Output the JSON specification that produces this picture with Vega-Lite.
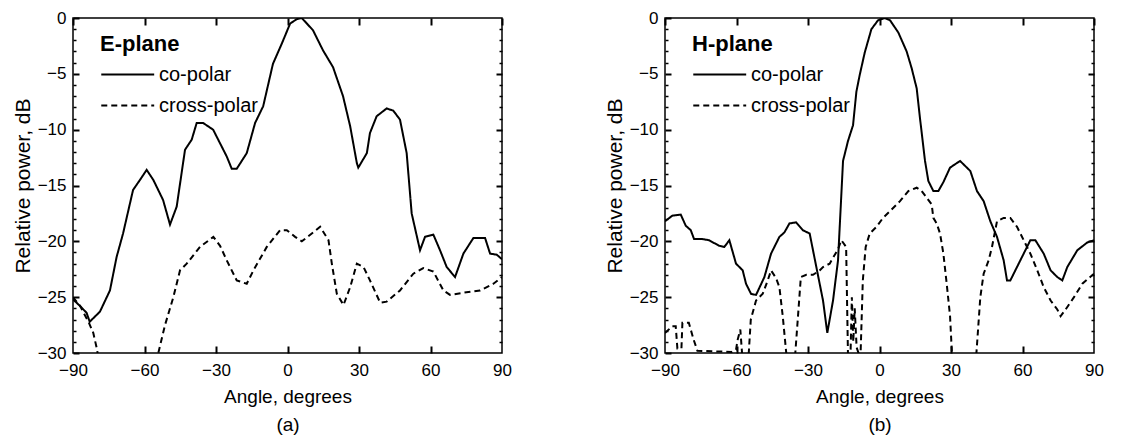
{
  "$schema": "https://vega.github.io/schema/vega-lite/v6.json",
  "padding": {"left": 11, "top": 8, "right": 5, "bottom": 5},
  "background": "white",
  "datasets": {
    "E": [
      {"a":-90,"p":-25.2,"s":"co-polar"},{"a":-87,"p":-25.8,"s":"co-polar"},{"a":-84.3,"p":-26.4,"s":"co-polar"},{"a":-83,"p":-27.2,"s":"co-polar"},{"a":-78.7,"p":-26.3,"s":"co-polar"},{"a":-74.5,"p":-24.4,"s":"co-polar"},{"a":-71.7,"p":-21.4,"s":"co-polar"},{"a":-69,"p":-19.3,"s":"co-polar"},{"a":-64.8,"p":-15.4,"s":"co-polar"},{"a":-61.9,"p":-14.5,"s":"co-polar"},{"a":-59.1,"p":-13.6,"s":"co-polar"},{"a":-56.3,"p":-14.5,"s":"co-polar"},{"a":-52.2,"p":-16.3,"s":"co-polar"},{"a":-49.3,"p":-18.5,"s":"co-polar"},{"a":-46.5,"p":-16.9,"s":"co-polar"},{"a":-43,"p":-11.8,"s":"co-polar"},{"a":-40.2,"p":-10.9,"s":"co-polar"},{"a":-38.1,"p":-9.4,"s":"co-polar"},{"a":-35.4,"p":-9.4,"s":"co-polar"},{"a":-31.2,"p":-10,"s":"co-polar"},{"a":-25.5,"p":-12.4,"s":"co-polar"},{"a":-23.4,"p":-13.5,"s":"co-polar"},{"a":-21.3,"p":-13.5,"s":"co-polar"},{"a":-17.1,"p":-12.1,"s":"co-polar"},{"a":-13.6,"p":-9.4,"s":"co-polar"},{"a":-10.2,"p":-7.9,"s":"co-polar"},{"a":-6.1,"p":-4.1,"s":"co-polar"},{"a":-2.4,"p":-2.3,"s":"co-polar"},{"a":1.1,"p":-0.5,"s":"co-polar"},{"a":3.9,"p":-0.1,"s":"co-polar"},{"a":6,"p":0,"s":"co-polar"},{"a":10.7,"p":-1.1,"s":"co-polar"},{"a":14.9,"p":-2.9,"s":"co-polar"},{"a":19.1,"p":-4.4,"s":"co-polar"},{"a":23.3,"p":-7,"s":"co-polar"},{"a":26.3,"p":-9.7,"s":"co-polar"},{"a":29.1,"p":-13,"s":"co-polar"},{"a":29.7,"p":-13.4,"s":"co-polar"},{"a":33.3,"p":-12.1,"s":"co-polar"},{"a":34.6,"p":-10.3,"s":"co-polar"},{"a":37.4,"p":-8.8,"s":"co-polar"},{"a":41.6,"p":-8.1,"s":"co-polar"},{"a":44.4,"p":-8.3,"s":"co-polar"},{"a":47.2,"p":-9.1,"s":"co-polar"},{"a":50,"p":-12.1,"s":"co-polar"},{"a":52.1,"p":-17.5,"s":"co-polar"},{"a":55.6,"p":-20.8,"s":"co-polar"},{"a":57.7,"p":-19.6,"s":"co-polar"},{"a":61.2,"p":-19.4,"s":"co-polar"},{"a":64,"p":-20.8,"s":"co-polar"},{"a":66.8,"p":-22.3,"s":"co-polar"},{"a":70.3,"p":-23.2,"s":"co-polar"},{"a":73.8,"p":-21.1,"s":"co-polar"},{"a":78,"p":-19.7,"s":"co-polar"},{"a":82.9,"p":-19.7,"s":"co-polar"},{"a":85,"p":-21.1,"s":"co-polar"},{"a":87.8,"p":-21.2,"s":"co-polar"},{"a":90,"p":-21.6,"s":"co-polar"},
      {"a":-90,"p":-25,"s":"cross-polar"},{"a":-87,"p":-25.8,"s":"cross-polar"},{"a":-83.3,"p":-27.3,"s":"cross-polar"},{"a":-81.5,"p":-28.2,"s":"cross-polar"},{"a":-80,"p":-29.6,"s":"cross-polar"},{"a":-78.5,"p":-31.5,"s":"cross-polar"},{"a":-56,"p":-31.5,"s":"cross-polar"},{"a":-54.2,"p":-30,"s":"cross-polar"},{"a":-51.4,"p":-27.5,"s":"cross-polar"},{"a":-47.9,"p":-25,"s":"cross-polar"},{"a":-45.1,"p":-22.6,"s":"cross-polar"},{"a":-42.3,"p":-22,"s":"cross-polar"},{"a":-36.7,"p":-20.5,"s":"cross-polar"},{"a":-31.1,"p":-19.6,"s":"cross-polar"},{"a":-28.3,"p":-20.4,"s":"cross-polar"},{"a":-25.5,"p":-21.7,"s":"cross-polar"},{"a":-21.3,"p":-23.5,"s":"cross-polar"},{"a":-17.1,"p":-23.8,"s":"cross-polar"},{"a":-14.3,"p":-22.6,"s":"cross-polar"},{"a":-8.7,"p":-20.5,"s":"cross-polar"},{"a":-3.1,"p":-19,"s":"cross-polar"},{"a":-0.3,"p":-19,"s":"cross-polar"},{"a":3.2,"p":-19.6,"s":"cross-polar"},{"a":6,"p":-20,"s":"cross-polar"},{"a":10.2,"p":-19.3,"s":"cross-polar"},{"a":13.7,"p":-18.7,"s":"cross-polar"},{"a":17.2,"p":-19.9,"s":"cross-polar"},{"a":18.6,"p":-22,"s":"cross-polar"},{"a":20.7,"p":-24.7,"s":"cross-polar"},{"a":23.5,"p":-25.7,"s":"cross-polar"},{"a":26.3,"p":-24.1,"s":"cross-polar"},{"a":29.1,"p":-22,"s":"cross-polar"},{"a":31.9,"p":-22.3,"s":"cross-polar"},{"a":34.6,"p":-23.5,"s":"cross-polar"},{"a":38.9,"p":-25.5,"s":"cross-polar"},{"a":41.6,"p":-25.4,"s":"cross-polar"},{"a":47.2,"p":-24.4,"s":"cross-polar"},{"a":52.8,"p":-22.9,"s":"cross-polar"},{"a":57,"p":-22.4,"s":"cross-polar"},{"a":61.2,"p":-22.7,"s":"cross-polar"},{"a":65.4,"p":-24.4,"s":"cross-polar"},{"a":68.2,"p":-24.8,"s":"cross-polar"},{"a":73.8,"p":-24.6,"s":"cross-polar"},{"a":80.8,"p":-24.4,"s":"cross-polar"},{"a":86.4,"p":-23.8,"s":"cross-polar"},{"a":90,"p":-23.2,"s":"cross-polar"}
    ],
    "H": [
      {"a":-90,"p":-18.2,"s":"co-polar"},{"a":-86.9,"p":-17.7,"s":"co-polar"},{"a":-83.4,"p":-17.6,"s":"co-polar"},{"a":-81.3,"p":-18.6,"s":"co-polar"},{"a":-79.2,"p":-19,"s":"co-polar"},{"a":-77.8,"p":-19.8,"s":"co-polar"},{"a":-74.3,"p":-19.8,"s":"co-polar"},{"a":-71.5,"p":-19.9,"s":"co-polar"},{"a":-67.3,"p":-20.4,"s":"co-polar"},{"a":-65.1,"p":-20.5,"s":"co-polar"},{"a":-63,"p":-19.9,"s":"co-polar"},{"a":-60.2,"p":-22,"s":"co-polar"},{"a":-57.4,"p":-22.6,"s":"co-polar"},{"a":-56,"p":-23.8,"s":"co-polar"},{"a":-53.9,"p":-24.7,"s":"co-polar"},{"a":-51.8,"p":-24.8,"s":"co-polar"},{"a":-48.3,"p":-23.2,"s":"co-polar"},{"a":-45.5,"p":-21.1,"s":"co-polar"},{"a":-42,"p":-19.6,"s":"co-polar"},{"a":-39.9,"p":-19.2,"s":"co-polar"},{"a":-37.8,"p":-18.4,"s":"co-polar"},{"a":-35,"p":-18.3,"s":"co-polar"},{"a":-32.2,"p":-19,"s":"co-polar"},{"a":-29.3,"p":-19.3,"s":"co-polar"},{"a":-26.5,"p":-22.3,"s":"co-polar"},{"a":-23.7,"p":-25.3,"s":"co-polar"},{"a":-21.9,"p":-28.2,"s":"co-polar"},{"a":-19.5,"p":-25.3,"s":"co-polar"},{"a":-17.4,"p":-21.7,"s":"co-polar"},{"a":-15.3,"p":-12.8,"s":"co-polar"},{"a":-13.2,"p":-11,"s":"co-polar"},{"a":-11.1,"p":-9.6,"s":"co-polar"},{"a":-9.7,"p":-6.6,"s":"co-polar"},{"a":-8.3,"p":-5.1,"s":"co-polar"},{"a":-6.2,"p":-3.1,"s":"co-polar"},{"a":-3.4,"p":-1,"s":"co-polar"},{"a":-0.6,"p":-0.2,"s":"co-polar"},{"a":2.2,"p":0,"s":"co-polar"},{"a":4.4,"p":-0.2,"s":"co-polar"},{"a":7.9,"p":-1.3,"s":"co-polar"},{"a":11.4,"p":-3,"s":"co-polar"},{"a":13.5,"p":-4.5,"s":"co-polar"},{"a":15.6,"p":-6.3,"s":"co-polar"},{"a":17,"p":-9,"s":"co-polar"},{"a":19.1,"p":-12.8,"s":"co-polar"},{"a":20.5,"p":-14.6,"s":"co-polar"},{"a":22.6,"p":-15.5,"s":"co-polar"},{"a":24.7,"p":-15.5,"s":"co-polar"},{"a":26.8,"p":-14.7,"s":"co-polar"},{"a":29.6,"p":-13.4,"s":"co-polar"},{"a":33.8,"p":-12.8,"s":"co-polar"},{"a":38.1,"p":-13.7,"s":"co-polar"},{"a":40.9,"p":-15.5,"s":"co-polar"},{"a":43.7,"p":-16.4,"s":"co-polar"},{"a":46.5,"p":-18.2,"s":"co-polar"},{"a":49.3,"p":-19.6,"s":"co-polar"},{"a":52.1,"p":-21.7,"s":"co-polar"},{"a":53.5,"p":-23.5,"s":"co-polar"},{"a":54.9,"p":-23.5,"s":"co-polar"},{"a":57.7,"p":-22.3,"s":"co-polar"},{"a":60.5,"p":-21.1,"s":"co-polar"},{"a":63.3,"p":-19.9,"s":"co-polar"},{"a":65.4,"p":-19.9,"s":"co-polar"},{"a":68.9,"p":-21.1,"s":"co-polar"},{"a":71.8,"p":-22.6,"s":"co-polar"},{"a":74.6,"p":-23.2,"s":"co-polar"},{"a":76.7,"p":-23.5,"s":"co-polar"},{"a":78.8,"p":-22.3,"s":"co-polar"},{"a":83,"p":-20.8,"s":"co-polar"},{"a":87.2,"p":-20.1,"s":"co-polar"},{"a":90,"p":-19.9,"s":"co-polar"},
      {"a":-90,"p":-28.2,"s":"cross-polar"},{"a":-86.9,"p":-27.6,"s":"cross-polar"},{"a":-85.5,"p":-27.6,"s":"cross-polar"},{"a":-84.8,"p":-29.6,"s":"cross-polar"},{"a":-83.1,"p":-29.6,"s":"cross-polar"},{"a":-82.7,"p":-27.3,"s":"cross-polar"},{"a":-80,"p":-27.3,"s":"cross-polar"},{"a":-78,"p":-28.8,"s":"cross-polar"},{"a":-76.4,"p":-29.8,"s":"cross-polar"},{"a":-62,"p":-29.9,"s":"cross-polar"},{"a":-60.2,"p":-29.7,"s":"cross-polar"},{"a":-59.5,"p":-28.8,"s":"cross-polar"},{"a":-58.4,"p":-27.9,"s":"cross-polar"},{"a":-57.5,"p":-30.5,"s":"cross-polar"},{"a":-55,"p":-30.5,"s":"cross-polar"},{"a":-54,"p":-27,"s":"cross-polar"},{"a":-51.8,"p":-25.3,"s":"cross-polar"},{"a":-49,"p":-24.7,"s":"cross-polar"},{"a":-46.9,"p":-23.5,"s":"cross-polar"},{"a":-45.5,"p":-22.6,"s":"cross-polar"},{"a":-43.4,"p":-23.3,"s":"cross-polar"},{"a":-42,"p":-24.1,"s":"cross-polar"},{"a":-40.6,"p":-26.7,"s":"cross-polar"},{"a":-38.9,"p":-30.5,"s":"cross-polar"},{"a":-35.5,"p":-30.5,"s":"cross-polar"},{"a":-33,"p":-23.2,"s":"cross-polar"},{"a":-30.7,"p":-23,"s":"cross-polar"},{"a":-27.9,"p":-23,"s":"cross-polar"},{"a":-25.1,"p":-22.6,"s":"cross-polar"},{"a":-23.7,"p":-22.3,"s":"cross-polar"},{"a":-20.9,"p":-22,"s":"cross-polar"},{"a":-17.4,"p":-20.7,"s":"cross-polar"},{"a":-16,"p":-19.9,"s":"cross-polar"},{"a":-14,"p":-20.5,"s":"cross-polar"},{"a":-13.2,"p":-30.5,"s":"cross-polar"},{"a":-12.2,"p":-30.5,"s":"cross-polar"},{"a":-11.6,"p":-25,"s":"cross-polar"},{"a":-11,"p":-29,"s":"cross-polar"},{"a":-10.4,"p":-26,"s":"cross-polar"},{"a":-9.6,"p":-29.5,"s":"cross-polar"},{"a":-8,"p":-30.5,"s":"cross-polar"},{"a":-7,"p":-23.5,"s":"cross-polar"},{"a":-5.8,"p":-20.5,"s":"cross-polar"},{"a":-4.1,"p":-19.3,"s":"cross-polar"},{"a":-1.3,"p":-18.7,"s":"cross-polar"},{"a":1.5,"p":-17.9,"s":"cross-polar"},{"a":4.4,"p":-17.3,"s":"cross-polar"},{"a":8.6,"p":-16.4,"s":"cross-polar"},{"a":12.1,"p":-15.5,"s":"cross-polar"},{"a":15.6,"p":-15.2,"s":"cross-polar"},{"a":17.7,"p":-15.5,"s":"cross-polar"},{"a":19.8,"p":-16.1,"s":"cross-polar"},{"a":21.9,"p":-16.7,"s":"cross-polar"},{"a":22.6,"p":-17.9,"s":"cross-polar"},{"a":24,"p":-18.4,"s":"cross-polar"},{"a":25.4,"p":-19.3,"s":"cross-polar"},{"a":26.8,"p":-21.1,"s":"cross-polar"},{"a":28.2,"p":-23.8,"s":"cross-polar"},{"a":29.6,"p":-26.7,"s":"cross-polar"},{"a":30.5,"p":-30.5,"s":"cross-polar"},{"a":40.5,"p":-30.5,"s":"cross-polar"},{"a":42.3,"p":-25,"s":"cross-polar"},{"a":43.7,"p":-22.9,"s":"cross-polar"},{"a":45.8,"p":-21.7,"s":"cross-polar"},{"a":47.2,"p":-20.5,"s":"cross-polar"},{"a":49.3,"p":-18.2,"s":"cross-polar"},{"a":52.1,"p":-17.9,"s":"cross-polar"},{"a":54.9,"p":-17.9,"s":"cross-polar"},{"a":57.7,"p":-18.7,"s":"cross-polar"},{"a":60.5,"p":-19.9,"s":"cross-polar"},{"a":63.3,"p":-21.1,"s":"cross-polar"},{"a":66.2,"p":-22.6,"s":"cross-polar"},{"a":68.9,"p":-24.1,"s":"cross-polar"},{"a":71.8,"p":-25.3,"s":"cross-polar"},{"a":74.6,"p":-26.1,"s":"cross-polar"},{"a":76,"p":-26.7,"s":"cross-polar"},{"a":78.1,"p":-26.1,"s":"cross-polar"},{"a":81.6,"p":-25,"s":"cross-polar"},{"a":85.1,"p":-23.8,"s":"cross-polar"},{"a":90,"p":-22.9,"s":"cross-polar"}
    ]
  },
  "hconcat": [
    {
      "width": 429, "height": 335,
      "data": {"name": "E"},
      "layer": [
        {
          "mark": {"type": "line", "clip": true, "strokeWidth": 2, "color": "black"},
          "encoding": {
            "x": {"field": "a", "type": "quantitative", "scale": {"domain": [-90, 90], "nice": false},
              "axis": {"orient": "bottom", "values": [-90, -60, -30, 0, 30, 60, 90], "grid": true, "gridDash": [7, 2000], "labelPadding": 9, "title": ["Angle, degrees", "(a)"]}},
            "y": {"field": "p", "type": "quantitative", "scale": {"domain": [-30, 0], "nice": false},
              "axis": {"orient": "left", "values": [-30, -25, -20, -15, -10, -5, 0], "grid": true, "gridDash": [6, 2000], "labelPadding": 7, "title": "Relative power, dB"}},
            "strokeDash": {"field": "s", "type": "nominal",
              "scale": {"domain": ["co-polar", "cross-polar"], "range": [[1, 0], [6, 4]]},
              "legend": {"title": "E-plane"}}
          }
        },
        {
          "mark": {"type": "point", "opacity": 0},
          "encoding": {
            "x": {"field": "a", "type": "quantitative", "axis": {"orient": "top", "values": [-60, -30, 0, 30, 60], "grid": true, "gridDash": [7, 2000], "labels": false, "title": null}},
            "y": {"field": "p", "type": "quantitative", "axis": {"orient": "left", "values": [-29,-28,-27,-26,-24,-23,-22,-21,-19,-18,-17,-16,-14,-13,-12,-11,-9,-8,-7,-6,-4,-3,-2,-1], "grid": true, "gridDash": [3, 2000], "gridWidth": 1.5, "labels": false, "title": null}}
          }
        },
        {
          "mark": {"type": "point", "opacity": 0},
          "encoding": {
            "x": {"field": "a", "type": "quantitative", "axis": null},
            "y": {"field": "p", "type": "quantitative", "axis": {"orient": "right", "values": [-25, -20, -15, -10, -5], "grid": true, "gridDash": [6, 2000], "labels": false, "title": null}}
          }
        },
        {
          "mark": {"type": "point", "opacity": 0},
          "encoding": {
            "x": {"field": "a", "type": "quantitative", "axis": null},
            "y": {"field": "p", "type": "quantitative", "axis": {"orient": "right", "values": [-29,-28,-27,-26,-24,-23,-22,-21,-19,-18,-17,-16,-14,-13,-12,-11,-9,-8,-7,-6,-4,-3,-2,-1], "grid": true, "gridDash": [3, 2000], "gridWidth": 1.5, "labels": false, "title": null}}
          }
        }
      ],
      "resolve": {"axis": {"x": "independent", "y": "independent"}}
    },
    {
      "width": 429, "height": 335,
      "data": {"name": "H"},
      "layer": [
        {
          "mark": {"type": "line", "clip": true, "strokeWidth": 2, "color": "black"},
          "encoding": {
            "x": {"field": "a", "type": "quantitative", "scale": {"domain": [-90, 90], "nice": false},
              "axis": {"orient": "bottom", "values": [-90, -60, -30, 0, 30, 60, 90], "grid": true, "gridDash": [7, 2000], "labelPadding": 9, "title": ["Angle, degrees", "(b)"]}},
            "y": {"field": "p", "type": "quantitative", "scale": {"domain": [-30, 0], "nice": false},
              "axis": {"orient": "left", "values": [-30, -25, -20, -15, -10, -5, 0], "grid": true, "gridDash": [6, 2000], "labelPadding": 7, "title": "Relative power, dB"}},
            "strokeDash": {"field": "s", "type": "nominal",
              "scale": {"domain": ["co-polar", "cross-polar"], "range": [[1, 0], [6, 4]]},
              "legend": {"title": "H-plane"}}
          }
        },
        {
          "mark": {"type": "point", "opacity": 0},
          "encoding": {
            "x": {"field": "a", "type": "quantitative", "axis": {"orient": "top", "values": [-60, -30, 0, 30, 60], "grid": true, "gridDash": [7, 2000], "labels": false, "title": null}},
            "y": {"field": "p", "type": "quantitative", "axis": {"orient": "left", "values": [-29,-28,-27,-26,-24,-23,-22,-21,-19,-18,-17,-16,-14,-13,-12,-11,-9,-8,-7,-6,-4,-3,-2,-1], "grid": true, "gridDash": [3, 2000], "gridWidth": 1.5, "labels": false, "title": null}}
          }
        },
        {
          "mark": {"type": "point", "opacity": 0},
          "encoding": {
            "x": {"field": "a", "type": "quantitative", "axis": null},
            "y": {"field": "p", "type": "quantitative", "axis": {"orient": "right", "values": [-25, -20, -15, -10, -5], "grid": true, "gridDash": [6, 2000], "labels": false, "title": null}}
          }
        },
        {
          "mark": {"type": "point", "opacity": 0},
          "encoding": {
            "x": {"field": "a", "type": "quantitative", "axis": null},
            "y": {"field": "p", "type": "quantitative", "axis": {"orient": "right", "values": [-29,-28,-27,-26,-24,-23,-22,-21,-19,-18,-17,-16,-14,-13,-12,-11,-9,-8,-7,-6,-4,-3,-2,-1], "grid": true, "gridDash": [3, 2000], "gridWidth": 1.5, "labels": false, "title": null}}
          }
        }
      ],
      "resolve": {"axis": {"x": "independent", "y": "independent"}}
    }
  ],
  "spacing": 90,
  "resolve": {"scale": {"strokeDash": "independent"}, "legend": {"strokeDash": "independent"}},
  "config": {
    "font": "Liberation Sans",
    "view": {"stroke": "black", "strokeWidth": 1.5},
    "axis": {
      "domain": false, "ticks": false, "zindex": 1,
      "gridColor": "black", "gridWidth": 2, "gridOpacity": 1,
      "labelColor": "black", "labelFontSize": 17, "labelFlush": false, "labelFont": "Liberation Sans",
      "titleColor": "black", "titleFontSize": 19, "titleFontWeight": "normal", "titleFont": "Liberation Sans",
      "titleLineHeight": 28, "titlePadding": 9
    },
    "axisY": {"titleFontSize": 21, "titlePadding": 4},
    "legend": {
      "orient": "none", "legendX": 27, "legendY": 16,
      "symbolType": "M-1,0H3", "symbolSize": 700, "symbolStrokeWidth": 2, "symbolStrokeColor": "black",
      "titleFontSize": 22, "titleFontWeight": "bold", "titleColor": "black", "titleFont": "Liberation Sans",
      "labelFontSize": 20, "labelColor": "black", "labelFont": "Liberation Sans",
      "rowPadding": 6, "titlePadding": 4, "labelOffset": 30
    }
  }
}
